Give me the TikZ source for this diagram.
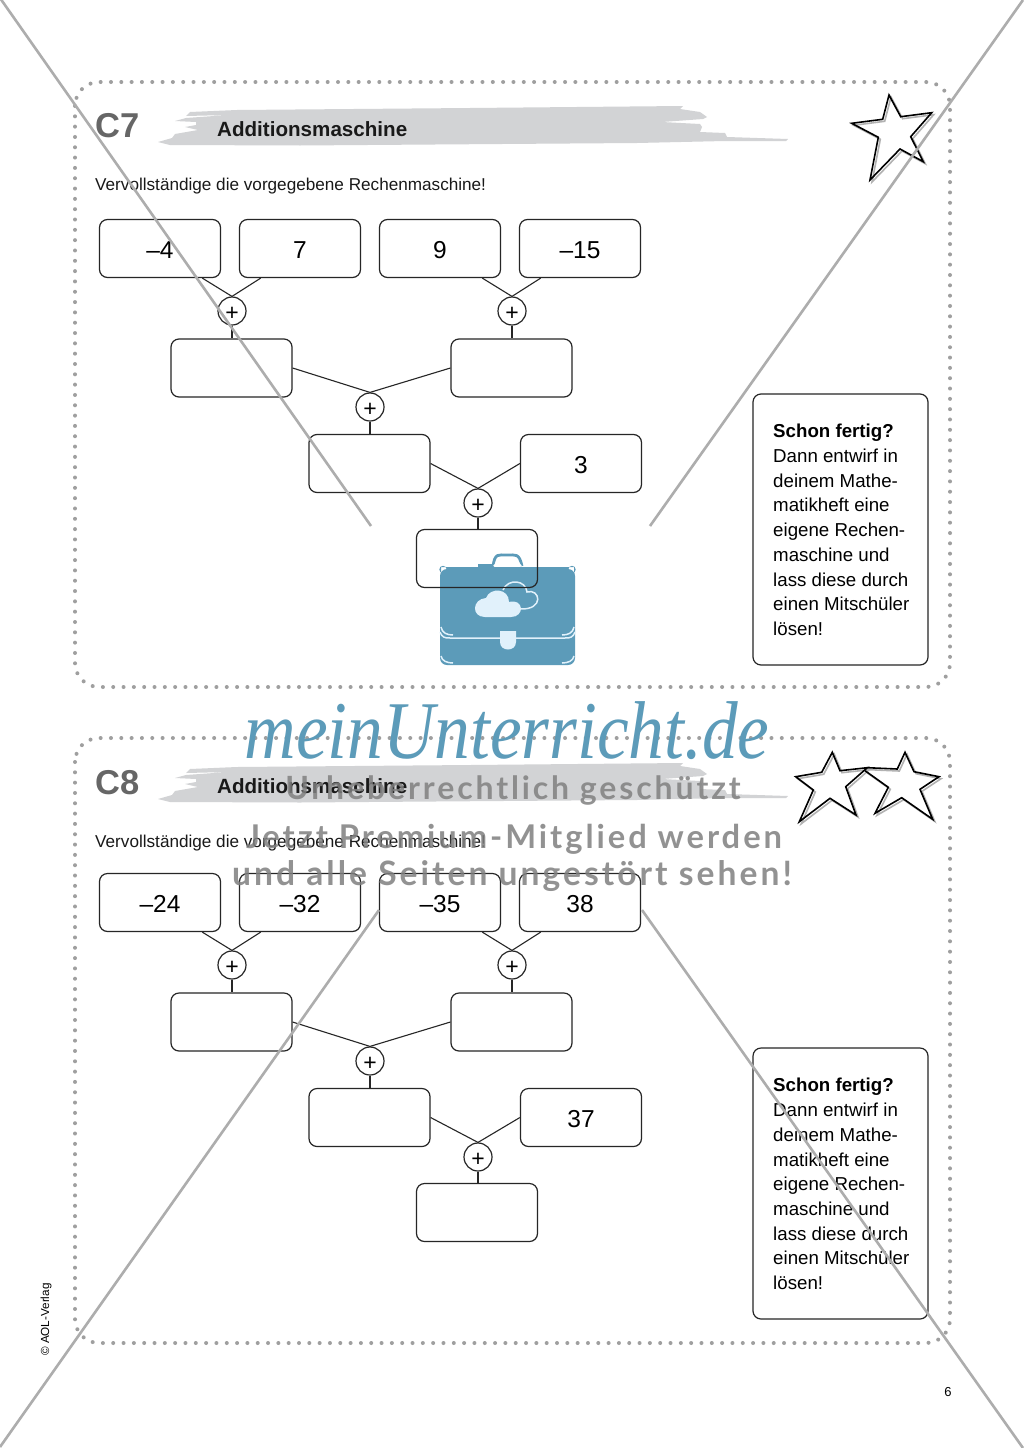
\documentclass[tikz,border=0pt]{standalone}
\usepackage{fontspec}
\setmainfont{Liberation Sans}
\newfontfamily\wmfont[LetterSpace=9]{Lato}
\newfontfamily\logofont{Liberation Serif}
\definecolor{bagblue}{HTML}{5C9BB9}
\definecolor{cloudblue}{HTML}{E1F1FB}
\definecolor{brushgray}{HTML}{D2D3D5}
\tikzset{
 numbox/.style={draw=black!85,line width=1.2pt,rounded corners=8pt,minimum width=121pt,minimum height=58pt,inner sep=0pt,text height=20pt,text depth=0pt,font=\fontsize{24.5}{24.5}\selectfont},
 plusnode/.style={draw=black!85,line width=1.2pt,circle,minimum size=28pt,inner sep=0pt,fill=white,text height=18pt,text depth=0pt,font=\fontsize{23}{23}\selectfont},
 wire/.style={black!85,line width=1.1pt},
 fertigbox/.style={draw=black!85,line width=1.2pt,rounded corners=8pt,minimum width=175pt,minimum height=271pt,inner sep=0pt},
 fertigtext/.style={anchor=west,align=left,inner sep=0pt,font=\fontsize{18.7}{24.7}\selectfont},
 crossline/.style={black!32,line width=2.6pt},
 stariline/.style={line width=1.6pt,line join=miter},
 dotframe/.style={gray!75,line width=4pt,line cap=round,dash pattern=on 0pt off 10.32pt,rounded corners=24pt},
 wmtext/.style={black!50,opacity=.85},
 headtext/.style={anchor=west,inner sep=0pt},
}
\begin{document}
\begin{tikzpicture}[x=1pt,y=-1pt]
\useasboundingbox (0,0) rectangle (1023,1448);
\fill[white] (0,0) rectangle (1023,1448);

% bag sits under the last box
\fill[bagblue,rounded corners=7pt] (440,569) -- (440,665) -- (575,665) -- (575,569) -- cycle;
\fill[bagblue] (443,569.5) circle (3.7) (572,569.5) circle (3.7) (441,567) rectangle (574,575);
\draw[bagblue,line width=2.8pt] (493,566) .. controls (495,553) and (498,555) .. (507,555) .. controls (516,555) and (519,553) .. (522,566);
\fill[bagblue] (478,564) rectangle (494,568);
\fill[white] (493,566.2) -- (497,561) -- (518,561) -- (522,566.2) -- cycle;
\draw[cloudblue,line width=1.5pt] (503,590) .. controls (508,578) and (526,580) .. (527,592) .. controls (540,588) and (545,610) .. (520,609);
\fill[cloudblue] (485,617) .. controls (471,617) and (472,599) .. (486,598) .. controls (490,587) and (509,588) .. (509,602) .. controls (524,598) and (525,617) .. (511,617) -- cycle;
\draw[cloudblue,line width=1.5pt] (440,632) .. controls (442,637) and (444,638) .. (450,638) -- (565,638) .. controls (571,638) and (573,637) .. (575,632);
\fill[cloudblue] (500,631) -- (516,631) -- (516,642) .. controls (516,652) and (500,652) .. (500,642) -- cycle;
\draw[cloudblue,line width=1.5pt] (441,627) .. controls (442,633) and (447,635) .. (453,635);
\draw[cloudblue,line width=1.5pt] (574,627) .. controls (573,633) and (568,635) .. (562,635);
\draw[cloudblue,line width=1.5pt] (441,656) .. controls (442,661) and (447,663) .. (453,663);
\draw[cloudblue,line width=1.5pt] (574,656) .. controls (573,661) and (568,663) .. (562,663);

\foreach \m/\dy/\dt/\dd/\na/\nb/\nc/\nd/\ne in {7/0/0/0/–4/7/9/–15/3,8/654/657/656/–24/–32/–35/38/37}{
 \begin{scope}[yshift=-\dd pt]
 \draw[dotframe] (75,82) rectangle (950,687);
 \end{scope}
 \begin{scope}[yshift=-\dt pt]
 \fill[brushgray] (237,110) -- (190,112) -- (186,116) -- (228,115) -- (186,118) -- (175,121) -- (196,122) -- (196,125) -- (185,127) -- (198,130) -- (175,134) -- (172,138) -- (158,142) -- (170,145) -- (300,145.5) -- (637,143) -- (725,141) -- (786,141) -- (788,139) -- (727,137) -- (725,133) -- (700,132) -- (702,127) -- (700,124) -- (662,122) -- (703,119) -- (707,117) -- (700,112) -- (680,109) -- (683,106) -- (470,108) -- cycle;
 \node[headtext,text=black!60,font=\bfseries\fontsize{34.5}{34.5}\selectfont] (title\m) at (95,125.5) {C\m};
 \node[headtext,text=black!90,font=\bfseries\fontsize{20.6}{20.6}\selectfont] (head\m) at (217,129.5) {Additionsmaschine};
 \node[headtext,text=black!90,font=\fontsize{17.15}{17.15}\selectfont] (task\m) at (95,186.5) {Vervollständige die vorgegebene Rechenmaschine!};
 \end{scope}
 \begin{scope}[yshift=-\dy pt]
 \node[numbox] (a\m) at (160,248.5) {\na};
 \node[numbox] (b\m) at (300,248.5) {\nb};
 \node[numbox] (c\m) at (440,248.5) {\nc};
 \node[numbox] (d\m) at (580,248.5) {\nd};
 \node[numbox] (e\m) at (231.5,368) {};
 \node[numbox] (f\m) at (511.5,368) {};
 \node[numbox] (g\m) at (369.5,463.5) {};
 \node[numbox] (h\m) at (581,463.5) {\ne};
 \node[numbox] (i\m) at (477,558.5) {};
 \node[plusnode] (pa\m) at (232,311) {+};
 \node[plusnode] (pb\m) at (512,311) {+};
 \node[plusnode] (pc\m) at (370,407) {+};
 \node[plusnode] (pd\m) at (478,503) {+};
 \draw[wire] (a\m.-35) -- (pa\m.north);
 \draw[wire] (b\m.-143) -- (pa\m.north);
 \draw[wire] (c\m.-35) -- (pb\m.north);
 \draw[wire] (d\m.-143) -- (pb\m.north);
 \draw[wire] (pa\m.south) -- (pa\m.south |- e\m.north);
 \draw[wire] (pb\m.south) -- (pb\m.south |- f\m.north);
 \draw[wire] (e\m.east) -- (pc\m.north);
 \draw[wire] (f\m.west) -- (pc\m.north);
 \draw[wire] (pc\m.south) -- (pc\m.south |- g\m.north);
 \draw[wire] (g\m.east) -- (pd\m.north);
 \draw[wire] (h\m.west) -- (pd\m.north);
 \draw[wire] (pd\m.south) -- (pd\m.south |- i\m.north);
 \node[fertigbox] (fertig\m) at (840.5,529.5) {};
 \node[fertigtext] (fertigtxt\m) at (773,530) {\textbf{Schon fertig?}\\Dann entwirf in\\deinem Mathe-\\matikheft eine\\eigene Rechen-\\maschine und\\lass diese durch\\einen Mitschüler\\lösen!};
 \end{scope}
}

% stars
\draw[stariline,black!30,xshift=2pt,yshift=-2pt] (889,95) -- (900.7,116.7) -- (931.7,112.7) -- (910.7,136.7) -- (923.3,161.7) -- (900,149) -- (870,180) -- (878.3,137.3) -- (851.7,123.3) -- (882.7,119.3) -- cycle;
\draw[stariline] (889,95) -- (900.7,116.7) -- (931.7,112.7) -- (910.7,136.7) -- (923.3,161.7) -- (900,149) -- (870,180) -- (878.3,137.3) -- (851.7,123.3) -- (882.7,119.3) -- cycle;
\foreach \sx/\cl in {2/black!30,0/black}{
 \draw[stariline,\cl,xshift=\sx pt,yshift=-\sx pt] (832.3,752.3) -- (840,770.7) -- (867.3,767.7) -- (845.7,786.7) -- (856,815) -- (830,798.3) -- (799.3,821.7) -- (813.3,790) -- (795.7,776.7) -- (821.7,772.3) -- cycle;
 \draw[stariline,\cl,xshift=\sx pt,yshift=-\sx pt] (867.3,767.7) -- (897.3,769) -- (905,752.3) -- (914,771.7) -- (939,776.7) -- (920,789.3) -- (932.7,819.3) -- (901.7,797.7) -- (875,813.3) -- (888.3,787.3) -- (865,770.7);
}

\node[rotate=90,anchor=west,inner sep=0pt,font=\fontsize{11.7}{11.7}\selectfont] (aol) at (46,1356) {© AOL-Verlag};
\node[font=\fontsize{13}{13}\selectfont] (page) at (948,1392) {6};

% crossing lines over everything
\draw[crossline] (0,-2) -- (371,526);
\draw[crossline] (1023,0) -- (650,526);
\draw[crossline] (379,910) -- (0,1447);
\draw[crossline] (642,910) -- (1023,1448);

% watermark
\node[text=bagblue,xscale=.87,font=\logofont\itshape\fontsize{82}{82}\selectfont] (logo) at (507,731) {meinUnterricht.de};
\node[wmtext,font=\wmfont\bfseries\fontsize{32}{32}\selectfont] (wma) at (513,790) {Urheberrechtlich geschützt};
\node[wmtext,font=\wmfont\bfseries\fontsize{32.7}{32.7}\selectfont] (wmb) at (514,839) {Jetzt Premium-Mitglied werden};
\node[wmtext,font=\wmfont\bfseries\fontsize{33.6}{33.6}\selectfont] (wmc) at (512,876) {und alle Seiten ungestört sehen!};
\end{tikzpicture}
\end{document}
